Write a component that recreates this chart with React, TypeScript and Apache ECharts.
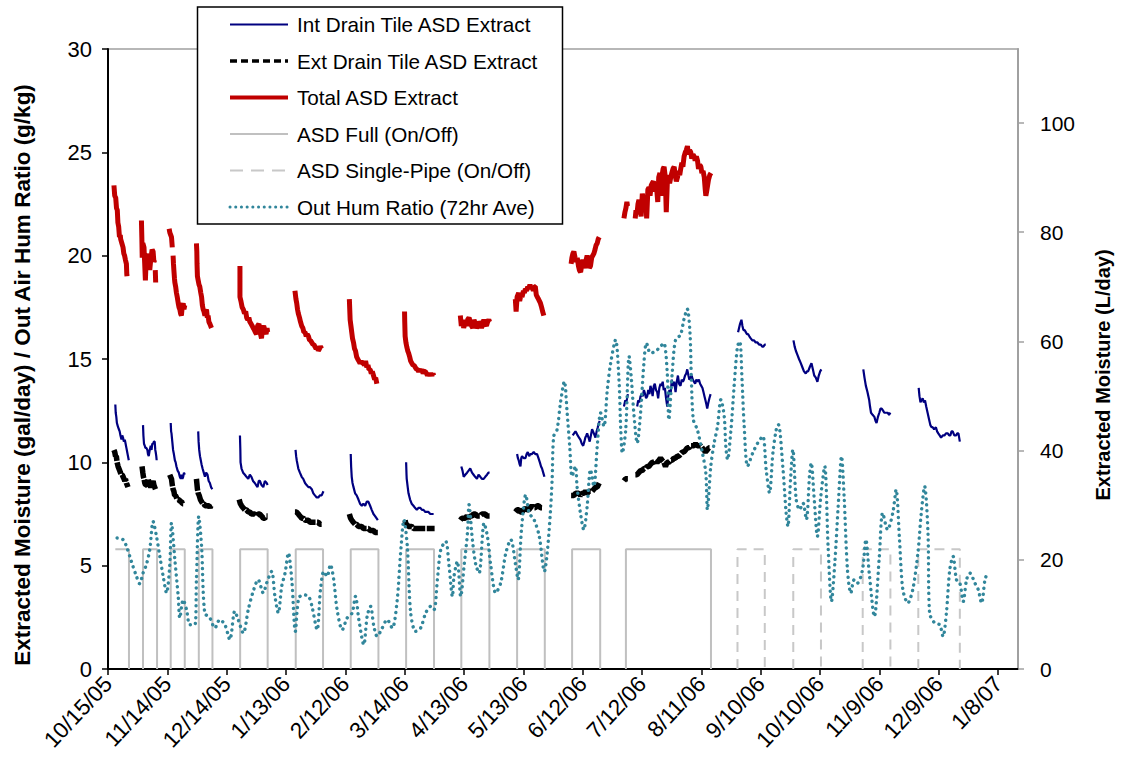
import React, { useEffect, useRef } from 'react';
import * as echarts from 'echarts';

// ---------- DATA ----------
// x values are days since START (10/15/05); y values in gal/day or g/kg
const START_UTC = Date.UTC(2005, 9, 15);
const X_MAX_DAYS = 460;
const X_TICK_DAYS = 30;
const LEFT_MAX = 30;
const LEFT_STEP = 5;
const GAL_TO_L = 3.78541;
const RIGHT_STEP = 20;
const ONOFF_LEVEL = 5.8;

const INT_SEGMENTS: number[][][] = [
  [[3.7,12.8],[3.9,12.4],[4.2,12.2],[4.5,11.9],[4.8,11.8],[5.1,11.7],[5.5,11.6],[5.9,11.5],[6.3,11.3],[6.8,11.1],[7.2,11.3],[7.6,11.2],[8.0,11.0],[8.5,11.1],[8.9,10.9],[9.3,10.7],[9.7,10.5],[10.1,10.3],[10.5,10.1]],
  [[17.7,11.8],[17.9,11.3],[18.2,10.9],[18.6,10.8],[18.9,10.7],[19.4,10.7],[19.9,10.6],[20.2,10.4],[20.6,10.3],[21.1,10.6],[21.6,10.8],[22.0,10.6],[22.4,10.9],[22.8,10.9],[23.2,11.0],[23.6,11.0],[23.9,10.6],[24.1,10.5],[24.4,10.3],[24.6,10.1]],
  [[31.7,11.9],[31.9,11.5],[32.1,11.4],[32.5,11.0],[32.9,10.6],[33.3,10.4],[33.8,10.1],[34.2,10.0],[34.6,9.8],[35.2,9.6],[35.8,9.5],[36.3,9.3],[36.8,9.2],[37.2,9.4],[37.6,9.2],[38.0,9.3],[38.4,9.5],[38.8,9.4]],
  [[45.6,11.5],[45.8,11.0],[46.1,10.6],[46.5,10.3],[46.9,10.1],[47.3,9.9],[47.8,9.7],[48.4,9.5],[49.0,9.3],[49.6,9.5],[50.3,9.4],[50.9,9.1],[51.5,9.0],[52.1,8.8],[52.7,8.7]],
  [[66.7,11.3],[66.9,10.6],[67.0,10.0],[67.5,9.7],[68.3,9.5],[69.2,9.4],[70.0,9.3],[70.9,9.2],[71.7,9.4],[72.5,9.3],[73.3,9.1],[74.2,9.0],[74.9,8.9],[75.6,8.8],[76.2,9.1],[76.8,9.1],[77.6,8.9],[78.5,8.8],[79.3,9.1],[80.2,9.0],[80.7,8.9]],
  [[94.8,10.6],[95.1,10.3],[95.4,10.1],[95.8,9.9],[96.2,9.7],[97.0,9.5],[97.9,9.3],[98.7,9.2],[99.6,9.0],[100.4,8.9],[101.3,8.8],[102.1,8.8],[103.0,8.7],[103.8,8.5],[104.6,8.4],[105.5,8.3],[106.3,8.3],[107.1,8.4],[108.0,8.4],[108.9,8.6]],
  [[122.7,10.4],[122.9,9.8],[123.2,9.3],[123.6,9.0],[124.1,8.8],[124.9,8.5],[125.7,8.4],[126.6,8.2],[127.4,8.0],[128.3,7.9],[129.1,8.0],[130.0,7.9],[130.8,8.1],[131.6,8.1],[132.5,7.9],[133.3,7.7],[134.2,7.5],[135.0,7.4],[135.7,7.3],[136.4,7.2]],
  [[150.7,10.0],[150.9,9.4],[151.0,9.2],[151.5,8.8],[151.9,8.5],[152.7,8.2],[153.5,8.0],[154.4,7.9],[155.2,7.8],[156.1,7.7],[157.0,7.8],[157.8,7.8],[158.7,7.7],[159.5,7.7],[160.4,7.6],[161.2,7.6],[162.0,7.6],[162.9,7.5],[163.7,7.5],[164.6,7.5]],
  [[178.6,9.8],[179.2,9.6],[179.8,9.3],[180.6,9.4],[181.5,9.5],[182.3,9.6],[183.1,9.7],[184.0,9.5],[184.8,9.4],[185.6,9.3],[186.5,9.2],[187.3,9.4],[188.2,9.3],[189.0,9.2],[189.9,9.2],[190.7,9.3],[191.6,9.4],[192.3,9.5],[192.9,9.5]],
  [[206.8,10.4],[207.2,10.2],[207.6,10.1],[208.1,9.9],[208.5,9.8],[208.9,10.2],[209.3,10.3],[210.1,10.2],[211.0,10.2],[211.6,10.4],[212.2,10.5],[212.9,10.3],[213.5,10.4],[214.3,10.4],[215.2,10.5],[216.0,10.4],[216.9,10.4],[217.6,10.2],[218.3,10.0],[218.9,9.8],[219.4,9.7],[220.0,9.5],[220.6,9.3]],
  [[234.9,11.3],[235.6,11.4],[236.3,11.5],[236.9,11.4],[237.4,11.3],[238.1,11.2],[238.8,11.1],[239.5,10.9],[240.2,10.8],[240.8,11.0],[241.3,11.2],[241.8,11.3],[242.2,11.4],[242.9,11.2],[243.5,11.0],[244.1,11.3],[244.7,11.6],[245.6,11.4],[246.4,11.2],[247.0,11.5],[247.6,11.7],[248.1,11.9],[248.6,12.0]],
  [[260.8,12.7],[261.5,13.0],[262.0,12.9],[262.8,13.3]],
  [[267.5,12.7],[268.0,13.0],[268.6,12.9],[269.2,13.2],[269.8,13.3],[270.3,13.2],[270.9,13.5],[271.5,13.3],[272.0,13.1],[272.6,13.2],[273.1,13.5],[273.7,13.3],[274.2,13.7],[274.8,13.5],[275.3,13.2],[275.9,13.7],[276.4,13.8],[277.0,13.5],[277.6,13.4],[278.1,13.1],[278.7,13.6],[279.3,13.8],[279.8,13.7],[280.4,13.9],[280.9,13.5],[281.5,13.6],[282.1,13.1],[282.7,12.7],[283.2,13.2],[283.8,13.5],[284.4,13.3],[285.0,14.0],[285.6,13.7],[286.2,13.9],[286.9,13.4],[287.5,13.9],[288.1,14.2],[288.7,13.8],[289.4,13.7],[290.0,14.0],[290.6,13.9],[291.1,14.0],[291.7,14.2],[292.3,14.3],[292.8,14.5],[293.4,14.2],[293.9,14.0],[294.5,14.1],[295.0,14.2],[295.6,14.0],[296.2,13.9],[296.8,13.8],[297.4,14.0],[298.0,13.9],[298.7,14.0],[299.3,13.8],[299.9,13.7],[300.5,13.6],[301.0,13.4],[301.5,13.2],[302.0,13.0],[302.5,12.8],[302.9,12.6],[303.5,12.9],[304.0,13.1],[304.6,13.3]],
  [[318.5,16.3],[319.0,16.5],[319.5,16.7],[320.2,16.9],[320.7,16.6],[321.2,16.4],[321.8,16.4],[322.4,16.3],[323.0,16.2],[323.6,16.2],[324.2,16.1],[324.9,16.0],[325.7,15.9],[326.6,15.9],[327.4,15.8],[328.3,15.8],[329.1,15.7],[330.0,15.7],[330.7,15.6],[331.3,15.6],[332.0,15.7],[332.5,15.7]],
  [[346.5,15.9],[347.1,15.6],[347.7,15.4],[348.5,15.2],[349.3,15.0],[350.2,14.8],[351.0,14.6],[351.8,14.4],[352.7,14.3],[353.3,14.4],[353.9,14.4],[354.7,14.6],[355.6,14.8],[356.3,14.5],[357.0,14.2],[357.8,14.1],[358.6,13.9],[359.3,14.2],[360.0,14.4],[360.6,14.5]],
  [[381.8,14.5],[382.4,14.1],[383.1,13.7],[383.9,13.4],[384.8,13.0],[385.2,12.7],[385.7,12.4],[386.5,12.3],[387.4,12.2],[388.0,12.0],[388.5,11.9],[389.2,12.2],[389.9,12.4],[390.5,12.6],[391.1,12.6],[391.8,12.5],[392.4,12.4],[393.2,12.4],[394.1,12.4],[394.8,12.3],[395.5,12.4]],
  [[409.8,13.6],[410.2,13.2],[410.7,12.9],[411.2,13.0],[411.8,13.1],[412.4,12.9],[413.0,13.0],[413.6,12.7],[414.3,12.4],[415.0,12.1],[415.7,11.8],[416.3,11.7],[416.8,11.7],[417.6,11.6],[418.5,11.7],[419.1,11.5],[419.7,11.4],[420.4,11.3],[421.1,11.2],[422.0,11.3],[422.8,11.3],[423.6,11.4],[424.5,11.4],[425.2,11.3],[425.8,11.3],[426.4,11.5],[427.0,11.5],[427.8,11.3],[428.7,11.3],[429.3,11.4],[429.9,11.4],[430.6,11.0]],
];

const EXT_SEGMENTS: number[][][] = [
  [[3.0,10.6],[3.4,10.5],[3.8,10.3],[4.2,10.3],[4.6,10.0],[5.1,9.8],[5.5,9.7],[5.9,9.6],[6.3,9.5],[6.8,9.4],[7.2,9.4],[7.6,9.3],[8.1,9.2],[8.5,9.1],[8.8,9.2],[9.3,9.0],[9.7,8.9],[10.1,8.8]],
  [[17.2,9.8],[17.6,9.5],[17.9,9.3],[18.2,9.2],[18.6,9.0],[19.0,8.9],[19.4,8.9],[19.8,9.0],[20.3,9.2],[20.7,9.0],[21.1,8.9],[21.6,8.8],[22.0,8.9],[22.4,9.0],[22.8,9.1],[23.2,8.9],[23.6,8.8],[24.0,8.7]],
  [[31.2,9.4],[31.6,9.3],[32.1,9.2],[32.5,8.9],[32.9,8.7],[33.3,8.6],[33.7,8.4],[34.1,8.4],[34.6,8.3],[35.0,8.2],[35.5,8.2],[35.9,8.2],[36.4,8.1],[36.8,8.1],[37.2,8.1],[37.6,8.0],[38.0,8.0]],
  [[44.7,9.2],[44.9,9.0],[45.2,8.7],[45.6,8.5],[46.1,8.4],[46.7,8.2],[47.3,8.1],[47.9,8.0],[48.5,8.0],[49.0,7.9],[49.6,7.9],[50.1,7.9],[50.6,7.9],[51.1,7.9],[51.6,7.8],[52.0,7.9]],
  [[66.3,8.2],[66.9,8.0],[67.5,7.9],[68.3,7.8],[69.2,7.7],[70.0,7.7],[70.9,7.6],[71.7,7.6],[72.5,7.5],[73.3,7.5],[74.2,7.5],[75.0,7.4],[75.9,7.5],[76.7,7.5],[77.6,7.4],[78.5,7.3],[79.3,7.3],[80.0,7.4],[80.7,7.4]],
  [[94.5,7.6],[95.3,7.6],[96.2,7.5],[97.0,7.4],[97.9,7.3],[98.7,7.3],[99.6,7.2],[100.4,7.2],[101.3,7.2],[102.1,7.1],[103.0,7.1],[103.8,7.1],[104.6,7.1],[105.5,7.1],[106.3,7.1],[107.1,7.0],[108.0,7.0]],
  [[122.0,7.5],[122.6,7.3],[123.2,7.2],[124.0,7.1],[124.9,7.0],[125.7,7.0],[126.6,6.9],[127.4,6.9],[128.3,6.9],[129.1,6.8],[130.0,6.8],[130.8,6.8],[131.6,6.8],[132.5,6.7],[133.3,6.7],[134.2,6.7],[135.0,6.6],[135.7,6.6],[136.4,6.6]],
  [[150.2,7.2],[150.6,7.0],[151.0,7.0],[151.8,6.9],[152.7,6.9],[153.5,6.9],[154.4,6.8],[155.3,6.8],[156.1,6.8],[157.0,6.8],[157.8,6.8],[158.7,6.8],[159.5,6.8],[160.4,6.8],[161.2,6.8],[162.0,6.8],[162.9,6.8],[163.7,6.8],[164.5,6.8],[165.1,6.8]],
  [[178.1,7.2],[178.9,7.3],[179.8,7.3],[180.6,7.3],[181.5,7.4],[182.3,7.3],[183.1,7.4],[184.0,7.4],[184.8,7.5],[185.7,7.5],[186.5,7.4],[187.3,7.4],[188.2,7.4],[189.0,7.5],[189.9,7.5],[190.7,7.5],[191.5,7.4],[192.3,7.4],[192.9,7.4]],
  [[205.9,7.6],[206.8,7.7],[207.6,7.7],[208.5,7.6],[209.3,7.6],[210.1,7.7],[211.0,7.8],[211.8,7.7],[212.7,7.7],[213.5,7.8],[214.3,7.9],[215.2,7.8],[216.0,7.8],[216.9,7.9],[217.7,7.9],[218.6,7.8],[219.4,7.8]],
  [[234.1,8.4],[234.8,8.4],[235.5,8.4],[236.4,8.5],[237.2,8.5],[238.0,8.5],[238.8,8.4],[239.7,8.5],[240.6,8.5],[241.4,8.6],[242.2,8.5],[243.1,8.6],[243.9,8.6],[244.7,8.6],[245.6,8.7],[246.5,8.8],[247.3,8.8],[247.8,8.9],[248.3,9.0]],
  [[260.8,9.1],[261.6,9.2],[262.3,9.2],[262.8,9.2]],
  [[266.6,9.4],[267.4,9.4],[268.3,9.5],[269.2,9.6],[270.0,9.6],[270.9,9.7],[271.7,9.7],[272.5,9.8],[273.4,9.8],[274.2,9.9],[275.1,10.0],[275.9,10.0],[276.8,10.1],[277.6,10.0],[278.5,10.1],[279.3,10.2],[280.1,10.1],[281.0,10.0],[281.8,9.8],[282.6,10.0],[283.5,10.0],[284.4,10.1],[285.2,10.1],[286.0,10.2],[286.9,10.2],[287.7,10.3],[288.6,10.3],[289.4,10.4],[290.3,10.5],[291.1,10.5],[292.0,10.6],[292.8,10.7],[293.7,10.7],[294.5,10.8],[295.4,10.8],[296.2,10.8],[297.0,10.9],[297.9,10.8],[298.7,10.8],[299.6,10.8],[300.4,10.7],[301.2,10.6],[302.0,10.5],[302.9,10.6],[303.7,10.7],[304.6,10.7]],
];

const TOTAL_SEGMENTS: number[][][] = [
  [[3.0,23.4],[3.4,22.9],[3.9,22.8],[4.3,22.3],[4.7,22.2],[5.0,21.6],[5.4,21.4],[5.8,20.9],[6.2,21.0],[6.4,20.8],[7.0,20.6],[7.6,20.4],[8.0,20.1],[8.4,20.0],[8.8,19.8],[9.3,19.6],[9.5,19.1],[9.6,19.0]],
  [[16.9,21.7],[17.1,20.9],[17.3,19.9],[17.6,20.6],[18.2,20.4],[18.6,19.5],[18.9,18.8],[19.2,19.6],[19.4,20.1],[19.9,19.8],[20.3,19.6],[20.7,19.9],[21.1,19.3],[21.5,19.7],[21.9,20.0],[22.3,20.3],[22.8,20.2],[23.2,19.7],[23.6,19.8]],
  [[23.9,19.3],[24.1,18.7]],
  [[30.9,21.3],[31.3,21.1],[31.7,21.0],[32.1,20.9],[32.5,20.4]],
  [[32.9,20.0],[33.1,19.6],[33.3,19.3],[33.6,18.9],[33.8,18.7],[34.2,18.5],[34.6,18.2],[35.0,18.0],[35.5,17.7],[35.9,17.5],[36.3,17.4],[36.7,17.2],[37.1,17.1],[37.5,17.5],[38.0,17.7],[38.4,17.4],[38.8,17.6]],
  [[44.7,20.6],[44.9,20.2],[45.0,19.6],[45.2,19.0],[45.6,18.8],[46.0,18.6],[46.4,18.5],[46.9,18.2],[47.3,18.0],[47.7,17.6],[48.1,17.4],[48.5,17.3],[49.0,17.1],[49.4,17.3],[49.8,17.4],[50.2,17.0],[50.6,17.1],[51.0,16.8],[51.5,16.7],[51.9,16.6],[52.3,16.5]],
  [[66.7,19.5],[66.7,18.0],[67.2,17.8],[67.8,17.5],[68.4,17.4],[69.0,17.2],[69.6,17.3],[70.1,17.0],[70.7,16.9],[71.2,17.0],[71.7,16.8],[72.3,16.7],[72.9,16.6],[73.4,16.5],[74.0,16.4],[74.5,16.3],[75.1,16.2],[75.6,16.6],[76.3,16.7],[76.9,16.3],[77.6,16.0],[78.1,16.5],[78.7,16.6],[79.3,16.4],[79.9,16.2],[80.4,16.5],[80.7,16.3]],
  [[94.5,18.3],[95.0,17.9],[95.4,17.7],[95.8,17.4],[96.2,17.2],[96.8,17.0],[97.3,16.8],[97.9,16.6],[98.5,16.5],[99.0,16.3],[99.6,16.3],[100.2,16.1],[100.7,16.2],[101.3,16.1],[101.9,15.9],[102.4,15.9],[103.0,15.8],[103.6,15.7],[104.1,15.7],[104.6,15.6],[105.2,15.5],[105.8,15.6],[106.3,15.4],[106.9,15.5],[107.4,15.6],[108.0,15.5]],
  [[122.0,17.9],[122.2,17.4],[122.4,16.9],[122.8,16.6],[123.2,16.3],[123.6,16.0],[124.1,15.8],[124.6,15.5],[125.1,15.4],[125.7,15.1],[126.2,15.0],[126.8,14.9],[127.4,14.8],[128.0,14.9],[128.5,14.8],[129.1,14.8],[129.7,14.7],[130.2,14.9],[130.8,14.6],[131.4,14.7],[131.9,14.5],[132.5,14.5],[133.1,14.3],[133.6,14.4],[134.2,14.2],[134.8,14.0],[135.3,14.1],[135.9,13.8]],
  [[149.9,17.3],[150.0,16.8],[150.2,16.1],[150.6,15.8],[151.0,15.6],[151.5,15.4],[151.9,15.3],[152.5,15.1],[153.0,14.9],[153.6,14.8],[154.2,14.7],[154.7,14.7],[155.3,14.6],[155.9,14.5],[156.4,14.5],[157.0,14.4],[157.6,14.5],[158.1,14.4],[158.7,14.5],[159.3,14.3],[159.8,14.4],[160.4,14.4],[161.0,14.3],[161.5,14.2],[162.0,14.3],[162.6,14.2],[163.2,14.3],[163.8,14.2],[164.3,14.3],[164.6,14.2]],
  [[178.1,17.1],[178.6,16.6],[179.2,16.9],[179.8,16.5],[180.6,16.8],[181.2,16.6],[181.8,16.9],[182.5,17.0],[183.1,16.8],[183.8,16.6],[184.4,16.5],[185.0,16.9],[185.7,16.7],[186.3,16.5],[186.9,16.6],[187.5,16.8],[188.2,16.7],[188.8,16.5],[189.4,16.7],[190.0,16.9],[190.7,16.7],[191.3,16.6],[191.9,16.8],[192.5,16.9],[192.9,16.8]],
  [[205.9,17.9],[206.3,17.3],[206.8,18.0],[207.6,18.2],[208.1,17.8],[208.7,18.1],[209.3,18.0],[210.0,18.3],[210.5,18.2],[211.0,18.4],[211.6,18.3],[212.2,18.5],[212.7,18.4],[213.3,18.6],[213.8,18.4],[214.3,18.5],[215.0,18.3],[215.5,18.5],[216.0,18.5],[216.5,18.1],[217.0,18.0],[217.6,17.9],[218.1,17.8],[218.6,17.7],[219.2,17.5],[219.7,17.3],[220.3,17.1]],
  [[234.1,19.6],[234.5,19.9],[235.0,20.1],[235.5,20.2],[236.1,19.9],[236.6,19.7],[237.2,19.9],[237.8,19.5],[238.3,19.3],[238.9,19.2],[239.4,19.5],[240.0,19.8],[240.6,19.6],[241.1,19.4],[241.7,19.8],[242.2,20.0],[242.8,19.8],[243.3,19.4],[243.9,19.5],[244.5,19.9],[245.0,20.0],[245.6,20.1],[246.2,20.3],[246.7,20.5],[247.3,20.6],[247.8,20.8],[248.3,20.9]],
  [[260.8,21.8],[261.3,22.1],[261.8,22.3],[262.3,22.6],[262.6,22.4]],
  [[266.5,21.8],[266.9,22.2],[267.4,22.0],[267.9,22.5],[268.4,22.7],[269.0,22.4],[269.5,21.9],[270.1,23.0],[270.6,22.7],[271.2,22.9],[271.8,22.8],[272.3,21.8],[272.9,23.2],[273.5,23.3],[274.0,22.9],[274.6,23.4],[275.1,23.5],[275.7,23.6],[276.2,23.1],[276.8,23.5],[277.3,23.3],[277.9,22.6],[278.4,23.8],[279.0,24.0],[279.5,22.9],[280.1,23.9],[280.6,24.2],[281.1,24.3],[281.7,23.8],[282.2,22.1],[282.8,23.7],[283.3,23.9],[283.9,23.5],[284.5,23.8],[285.0,24.0],[285.6,24.2],[286.2,24.3],[286.7,23.9],[287.3,23.6],[287.9,23.8],[288.4,24.1],[289.0,23.9],[289.5,24.2],[290.1,24.5],[290.6,24.3],[291.2,24.8],[291.8,25.0],[292.3,25.1],[292.9,25.3],[293.4,24.9],[294.0,25.1],[294.6,25.0],[295.1,24.7],[295.7,24.9],[296.3,24.8],[296.8,24.6],[297.4,24.8],[298.0,24.6],[298.5,24.2],[299.1,24.4],[299.7,24.3],[300.2,24.0],[300.8,24.1],[301.4,23.8],[301.9,23.2],[302.2,22.9],[302.6,23.1],[303.1,23.4],[303.6,23.7],[304.2,23.9],[304.8,24.0]],
];

// ASD on/off periods [start day, end day]
const FULL_PERIODS: number[][] = [
  [3.7,10.6],[17.7,24.8],[31.7,38.8],[45.9,52.8],[66.8,80.7],[94.9,108.7],[122.7,136.7],
  [150.7,164.8],[178.6,192.8],[206.8,220.8],[234.6,248.8],[261.8,304.8],
];
const SINGLE_PERIODS: number[][] = [[318.2,332.0],[346.4,360.4],[381.5,395.5],[409.6,430.6]];

// Outdoor humidity ratio, 72-hr average (g/kg)
const HUM_DAYS: number[] = [
  4.6,7.6,9.3,11.8,14.4,16.0,17.7,19.4,21.1,22.8,24.5,26.2,27.9,29.6,31.2,32.1,33.8,35.5,36.3,38.0,
  39.7,41.4,43.9,44.7,45.9,47.3,48.9,51.5,54.0,56.5,59.1,61.6,64.1,65.8,68.4,70.9,73.4,75.9,78.5,80.2,
  82.7,84.4,86.1,87.8,89.5,91.2,92.9,94.7,96.4,98.9,101.4,103.1,105.7,107.4,109.1,110.8,112.4,114.1,115.8,118.4,
  120.9,123.4,125.1,126.8,129.3,131.0,132.7,134.4,136.1,138.6,141.1,143.7,146.2,147.9,149.6,151.3,153.0,155.5,158.0,160.6,
  163.1,164.8,166.5,168.2,170.7,172.4,174.1,174.9,176.6,178.3,180.0,181.7,182.5,184.2,185.9,187.6,190.1,191.8,193.5,196.0,
  198.5,201.1,203.6,206.1,207.3,209.0,211.2,212.9,215.4,218.0,220.6,222.0,223.6,224.5,225.3,227.0,228.7,230.7,232.1,233.4,
  234.6,236.3,237.1,238.8,240.5,242.2,243.9,245.6,247.3,249.0,250.7,252.4,254.1,256.6,258.3,259.2,260.0,261.7,263.4,264.6,
  265.8,267.5,269.2,270.9,272.2,274.2,276.8,279.3,281.0,282.7,283.5,285.2,286.9,289.4,291.1,292.8,294.2,294.9,295.9,297.9,
  300.5,302.2,303.0,304.7,306.4,308.1,309.8,311.5,312.3,313.2,314.9,316.5,318.2,319.4,320.5,321.6,323.3,325.9,328.4,331.0,
  332.7,334.4,336.1,337.8,338.9,341.1,342.8,343.7,345.0,346.2,347.9,349.6,351.3,353.0,354.7,355.5,356.9,358.6,360.3,362.3,
  364.0,365.7,367.4,369.1,370.8,372.1,373.8,375.5,377.2,378.9,381.4,383.1,384.8,387.4,389.9,391.6,394.1,396.7,398.4,400.1,
  401.8,404.3,406.8,409.4,411.1,412.8,414.5,415.3,417.9,420.4,422.1,423.8,425.5,427.2,428.9,430.6,432.3,434.0,435.7,438.2,
  439.9,441.6,443.3,444.5,
];
const HUM_VALUES: number[] = [
  6.34,6.26,5.94,5.21,4.48,4.13,4.64,5.05,5.77,7.14,6.42,5.45,4.48,3.68,5.00,7.06,5.29,3.51,2.47,3.35,
  2.87,2.14,2.14,4.32,7.38,5.94,2.71,2.47,1.98,2.39,2.14,1.42,2.80,2.39,1.74,2.87,3.76,4.32,3.68,4.16,
  4.72,3.51,2.71,4.00,4.64,5.61,4.32,1.82,3.43,3.59,3.51,3.03,1.90,3.84,4.72,4.48,5.05,4.32,2.87,1.90,
  2.47,2.71,3.51,2.39,1.18,2.55,3.03,2.06,1.58,1.98,2.39,1.98,3.35,5.61,7.22,5.94,2.71,1.82,1.98,2.71,
  3.03,2.87,4.32,5.77,6.18,5.00,3.51,4.48,5.21,3.51,5.00,6.58,7.95,6.26,5.05,4.64,7.06,6.42,5.00,3.68,
  4.16,5.61,6.26,5.00,4.32,6.74,8.43,7.55,7.22,6.42,4.72,5.61,7.55,9.16,11.26,11.58,12.87,13.92,12.39,10.77,
  9.32,9.81,8.84,7.55,6.74,7.87,9.65,8.84,10.77,12.39,11.74,13.52,14.81,15.93,13.99,11.58,10.45,11.58,15.13,13.99,
  12.39,10.93,12.39,14.81,15.77,15.29,15.37,15.61,15.77,14.32,12.06,14.32,15.93,16.17,16.90,17.42,16.26,13.99,12.06,11.58,
  10.45,9.48,7.71,9.81,10.93,11.74,13.03,12.23,10.77,10.13,11.58,13.68,15.61,15.85,13.99,11.74,9.81,10.45,10.93,11.26,
  9.65,8.52,10.45,11.58,11.82,9.81,7.55,6.90,9.16,10.61,8.19,7.71,8.03,7.23,9.48,9.97,8.35,6.42,8.35,9.81,
  5.93,3.27,5.13,7.87,10.29,8.35,4.80,3.67,4.32,4.16,4.80,6.26,4.64,2.54,5.45,7.55,6.74,7.55,8.68,6.26,
  3.84,3.19,3.84,5.61,7.55,8.84,6.58,2.71,2.22,2.14,1.58,2.71,4.80,5.45,4.32,4.16,3.27,4.32,4.64,4.16,
  3.84,3.19,4.32,4.64,
];

const LEGEND_LABELS = [
  'Int Drain Tile ASD Extract',
  'Ext Drain Tile ASD Extract',
  'Total ASD Extract',
  'ASD Full (On/Off)',
  'ASD Single-Pipe (On/Off)',
  'Out Hum Ratio (72hr Ave)',
];
const LEFT_TITLE = 'Extracted Moisture (gal/day) / Out Air Hum Ratio (g/kg)';
const RIGHT_TITLE = 'Extracted Moisture (L/day)';

// ---------- STYLES ----------
const FONT = "'Liberation Sans', Arial, Helvetica, sans-serif";
const C_INT = '#000080';
const C_EXT = '#000000';
const C_TOTAL = '#C00000';
const C_FULL = '#C0C0C0';
const C_SINGLE = '#C8C8C8';
const C_HUM = '#31869B';

function joinSegments(segs: number[][][]): any[] {
  const out: any[] = [];
  segs.forEach((seg, i) => {
    if (i > 0) {
      const prev = segs[i - 1];
      out.push([(prev[prev.length - 1][0] + seg[0][0]) / 2, '-']);
    }
    seg.forEach((p) => out.push([p[0], p[1]]));
  });
  return out;
}

function periodsToSteps(periods: number[][], startsOn: boolean): any[] {
  const out: any[] = [];
  periods.forEach(([s, e], i) => {
    if (i > 0) out.push([(periods[i - 1][1] + s) / 2, '-']);
    if (!(i === 0 && startsOn)) out.push([s, 0]);
    out.push([s, ONOFF_LEVEL]);
    out.push([e, ONOFF_LEVEL]);
    out.push([e, 0]);
  });
  return out;
}

function fmtDate(days: number): string {
  const dt = new Date(START_UTC + Math.round(days) * 86400000);
  return `${dt.getUTCMonth() + 1}/${dt.getUTCDate()}/${String(dt.getUTCFullYear()).slice(2)}`;
}

export default function App() {
  const ref = useRef<HTMLDivElement>(null);
  useEffect(() => {
    if (!ref.current) return;
    const chart = echarts.init(ref.current, undefined, { renderer: 'svg' });

    const legendTop = 24.5;
    const legendStep = 36.5;
    const sampleStyles: any[] = [
      { stroke: C_INT, lineWidth: 2 },
      { stroke: C_EXT, lineWidth: 3.5, lineDash: [7, 4] },
      { stroke: C_TOTAL, lineWidth: 4 },
      { stroke: C_FULL, lineWidth: 2 },
      { stroke: C_SINGLE, lineWidth: 2, lineDash: [13, 8] },
      { stroke: C_HUM, lineWidth: 3, lineDash: [0.1, 5.6], lineCap: 'round' },
    ];
    const legendEls: any[] = [
      {
        type: 'rect',
        shape: { x: 197.5, y: 7, width: 365, height: 217 },
        style: { fill: '#fff', stroke: '#000', lineWidth: 1.5 },
        z: 100,
      },
    ];
    LEGEND_LABELS.forEach((label, i) => {
      const y = legendTop + legendStep * i;
      legendEls.push({
        type: 'line',
        shape: { x1: 230, y1: y, x2: 288, y2: y },
        style: sampleStyles[i],
        z: 101,
      });
      legendEls.push({
        type: 'text',
        x: 297,
        y: y,
        style: { text: label, fontSize: 20.7, fontFamily: FONT, fill: '#000', verticalAlign: 'middle', align: 'left' },
        z: 101,
      });
    });

    const titleEls: any[] = [
      {
        type: 'text',
        x: 22,
        y: 375,
        rotation: Math.PI / 2,
        style: { text: LEFT_TITLE, fontSize: 22.5, fontWeight: 'bold', fontFamily: FONT, fill: '#000', align: 'center', verticalAlign: 'middle' },
      },
      {
        type: 'text',
        x: 1103,
        y: 375,
        rotation: Math.PI / 2,
        style: { text: RIGHT_TITLE, fontSize: 20, fontWeight: 'bold', fontFamily: FONT, fill: '#000', align: 'center', verticalAlign: 'middle' },
      },
    ];

    const option: any = {
      animation: false,
      backgroundColor: '#fff',
      grid: { left: 108, right: 103, top: 49, bottom: 94, show: true, borderColor: '#A0A0A0', borderWidth: 1.5, backgroundColor: 'transparent' },
      xAxis: {
        type: 'value',
        min: 0,
        max: X_MAX_DAYS,
        interval: X_TICK_DAYS,
        axisLine: { show: true, lineStyle: { color: '#000', width: 2 } },
        axisTick: { show: true, length: 6, lineStyle: { color: '#000', width: 1.5 } },
        splitLine: { show: false },
        axisLabel: {
          rotate: 47,
          margin: 11,
          fontSize: 22.5,
          fontFamily: FONT,
          color: '#000',
          showMaxLabel: false,
          formatter: (v: number) => fmtDate(v),
        },
      },
      yAxis: [
        {
          type: 'value',
          min: 0,
          max: LEFT_MAX,
          interval: LEFT_STEP,
          axisLine: { show: true, lineStyle: { color: '#000', width: 2 } },
          axisTick: { show: true, length: 6, lineStyle: { color: '#000', width: 1.5 } },
          splitLine: { show: false },
          axisLabel: { fontSize: 22, fontFamily: FONT, color: '#000', margin: 16 },
        },
        {
          type: 'value',
          min: 0,
          max: LEFT_MAX * GAL_TO_L,
          interval: RIGHT_STEP,
          position: 'right',
          axisLine: { show: true, lineStyle: { color: '#A0A0A0', width: 2 } },
          axisTick: { show: true, length: 6, lineStyle: { color: '#A0A0A0', width: 1.5 } },
          splitLine: { show: false },
          axisLabel: { fontSize: 21, fontFamily: FONT, color: '#000', margin: 22, align: 'left', showMaxLabel: false },
        },
      ],
      graphic: [...titleEls, ...legendEls],
      series: [
        {
          name: LEGEND_LABELS[0], type: 'line', yAxisIndex: 0, showSymbol: false, symbol: 'none',
          connectNulls: false, data: joinSegments(INT_SEGMENTS),
          lineStyle: { color: C_INT, width: 2.2 },
        },
        {
          name: LEGEND_LABELS[1], type: 'line', yAxisIndex: 0, showSymbol: false, symbol: 'none',
          connectNulls: false, data: joinSegments(EXT_SEGMENTS),
          lineStyle: { color: C_EXT, width: 5.5, type: [12, 1.5] },
        },
        {
          name: LEGEND_LABELS[2], type: 'line', yAxisIndex: 0, showSymbol: false, symbol: 'none',
          connectNulls: false, data: joinSegments(TOTAL_SEGMENTS),
          lineStyle: { color: C_TOTAL, width: 5 },
        },
        {
          name: LEGEND_LABELS[3], type: 'line', yAxisIndex: 0, showSymbol: false, symbol: 'none',
          connectNulls: false, data: periodsToSteps(FULL_PERIODS, true),
          lineStyle: { color: C_FULL, width: 2 },
        },
        {
          name: LEGEND_LABELS[4], type: 'line', yAxisIndex: 0, showSymbol: false, symbol: 'none',
          connectNulls: false, data: periodsToSteps(SINGLE_PERIODS, false),
          lineStyle: { color: C_SINGLE, width: 2, type: [10, 7] },
        },
        {
          name: LEGEND_LABELS[5], type: 'line', yAxisIndex: 0, showSymbol: false, symbol: 'none',
          smooth: 0.3,
          data: HUM_DAYS.map((d, i) => [d, HUM_VALUES[i]]),
          lineStyle: { color: C_HUM, width: 3.4, type: [0.1, 5.8], cap: 'round' },
        },
      ],
    };
    chart.setOption(option);
    return () => chart.dispose();
  }, []);

  return (
    <div
      ref={ref}
      style={{ position: 'fixed', left: 0, top: 0, width: 1121, height: 763, background: '#fff' }}
    />
  );
}
